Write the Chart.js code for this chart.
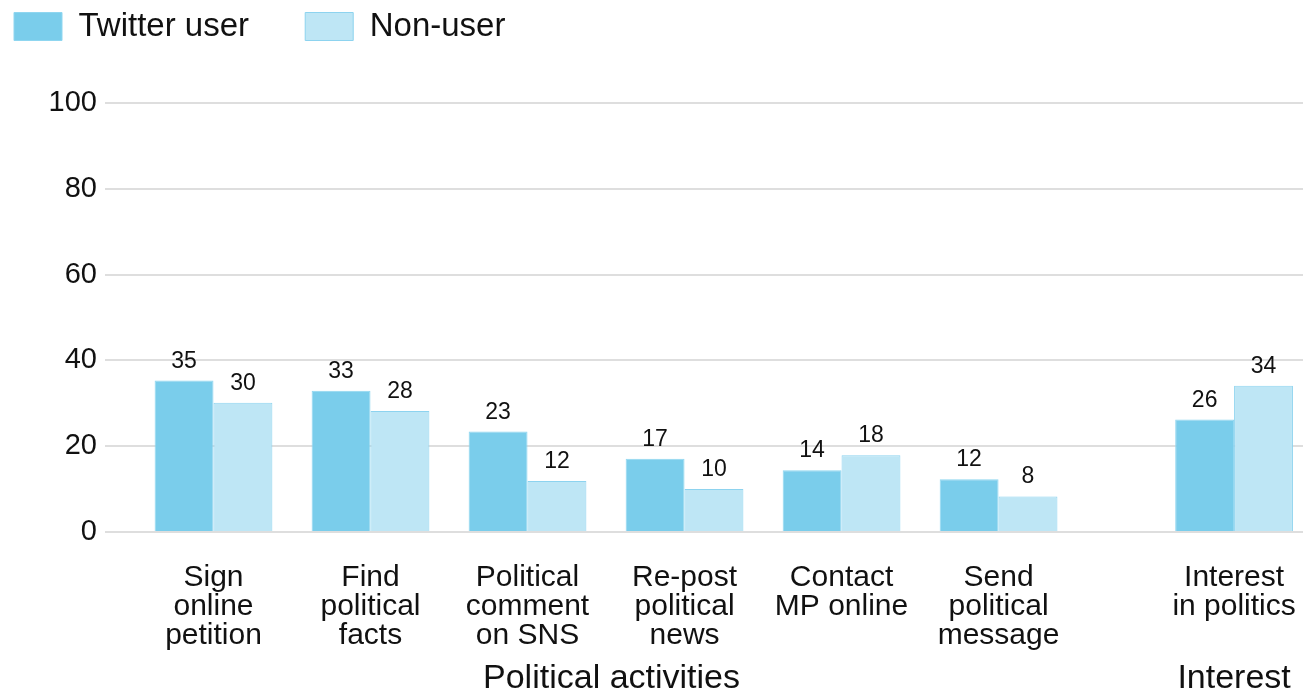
<!DOCTYPE html>
<html>
<head>
<meta charset="utf-8">
<script src="https://cdn.jsdelivr.net/npm/chart.js@4/dist/chart.umd.min.js"></script>
<style>
  html, body { margin: 0; padding: 0; background: #ffffff; }
  #wrap { width: 1303px; height: 694px; position: relative; }
</style>
</head>
<body>
<div id="wrap"><canvas id="c"></canvas></div>
<script>
// ---- data ----
const categories = [
  ['Sign', 'online', 'petition'],
  ['Find', 'political', 'facts'],
  ['Political', 'comment', 'on SNS'],
  ['Re-post', 'political', 'news'],
  ['Contact', 'MP online'],
  ['Send', 'political', 'message'],
  ['Interest', 'in politics']
];
const categoryPositions = [0, 1, 2, 3, 4, 5, 6.5];
const twitterUser = [35.3, 32.9, 23.4, 17.1, 14.4, 12.3, 26.2];
const nonUser = [30.1, 28.2, 11.9, 10.0, 17.9, 8.3, 34.1];
const seriesNames = ['Twitter user', 'Non-user'];
const groupLabels = ['Political activities', 'Interest'];
const groupPositions = [2.535, 6.5];
const yTicks = [0, 20, 40, 60, 80, 100];

const FONT = "'Liberation Sans', Arial, Helvetica, sans-serif";
const X_MIN = -0.691, X_MAX = 6.939;

const toPoints = (vals) => vals.map((v, i) => ({ x: categoryPositions[i], y: v }));

const valueLabels = {
  id: 'valueLabels',
  afterDatasetsDraw(chart) {
    const ctx = chart.ctx;
    ctx.save();
    ctx.font = '23px ' + FONT;
    ctx.fillStyle = '#111111';
    ctx.textAlign = 'center';
    ctx.textBaseline = 'alphabetic';
    chart.data.datasets.forEach((ds, di) => {
      const meta = chart.getDatasetMeta(di);
      meta.data.forEach((el, i) => {
        ctx.fillText(String(Math.round(ds.data[i].y)), el.x, el.y - 13);
      });
    });
    ctx.restore();
  }
};

const noSidePadding = (scale) => { scale.paddingLeft = 0; scale.paddingRight = 0; };

new Chart(document.getElementById('c'), {
  type: 'bar',
  data: {
    datasets: [
      {
        label: seriesNames[0],
        data: toPoints(twitterUser),
        backgroundColor: '#7acdeb',
        borderColor: '#8fd6f0',
        borderWidth: 1,
        categoryPercentage: 0.75,
        barPercentage: 1.0
      },
      {
        label: seriesNames[1],
        data: toPoints(nonUser),
        backgroundColor: '#bee6f5',
        borderColor: '#8dd3ef',
        borderWidth: 1,
        categoryPercentage: 0.75,
        barPercentage: 1.0
      }
    ]
  },
  options: {
    responsive: true,
    maintainAspectRatio: false,
    animation: false,
    layout: { padding: { top: -4, left: 0, right: 0, bottom: 0 } },
    plugins: {
      legend: {
        position: 'top',
        align: 'start',
        labels: {
          boxWidth: 48,
          boxHeight: 28,
          padding: 14,
          color: '#111111',
          font: { family: FONT, size: 33 },
          generateLabels(chart) {
            const items = Chart.defaults.plugins.legend.labels.generateLabels(chart);
            items.forEach((it, i) => { if (i === 0) it.text = it.text + '\u2002\u2002\u00a0'; });
            return items;
          }
        }
      },
      title: {
        display: true,
        text: '',
        weight: 500,
        position: 'top',
        color: 'rgba(0,0,0,0)',
        font: { size: 10, lineHeight: 1 },
        padding: { top: 40, bottom: 0 }
      },
      tooltip: { enabled: false }
    },
    scales: {
      x: {
        type: 'linear',
        position: 'bottom',
        offset: false,
        min: X_MIN,
        max: X_MAX,
        weight: 0,
        grid: { display: false, drawTicks: false, offset: false },
        border: { display: false },
        afterBuildTicks(scale) {
          scale.ticks = categoryPositions.map(v => ({ value: v }));
        },
        afterFit(scale) { scale.height = 123; noSidePadding(scale); },
        ticks: {
          autoSkip: false,
          maxRotation: 0,
          minRotation: 0,
          padding: 31,
          color: '#111111',
          font: { family: FONT, size: 30, lineHeight: '29px' },
          callback(value) {
            const i = categoryPositions.indexOf(value);
            return i >= 0 ? categories[i] : '';
          }
        }
      },
      x2: {
        type: 'linear',
        position: 'bottom',
        offset: false,
        min: X_MIN,
        max: X_MAX,
        weight: 1,
        grid: { display: false, drawTicks: false, offset: false },
        border: { display: false },
        afterBuildTicks(scale) {
          scale.ticks = groupPositions.map(v => ({ value: v }));
        },
        afterFit(scale) { scale.height = 39; noSidePadding(scale); },
        ticks: {
          autoSkip: false,
          maxRotation: 0,
          minRotation: 0,
          padding: 3,
          color: '#111111',
          font: { family: FONT, size: 34 },
          callback(value) {
            const i = groupPositions.indexOf(value);
            return i >= 0 ? groupLabels[i] : '';
          }
        }
      },
      y: {
        min: 0,
        max: 100,
        grid: { color: '#dedede', lineWidth: 2, drawTicks: false },
        border: { display: false },
        afterBuildTicks(scale) {
          scale.ticks = yTicks.map(v => ({ value: v }));
        },
        afterFit(scale) { scale.width = 105; },
        ticks: {
          padding: 8,
          color: '#111111',
          font: { family: FONT, size: 29 }
        }
      }
    }
  },
  plugins: [valueLabels]
});
</script>
</body>
</html>
